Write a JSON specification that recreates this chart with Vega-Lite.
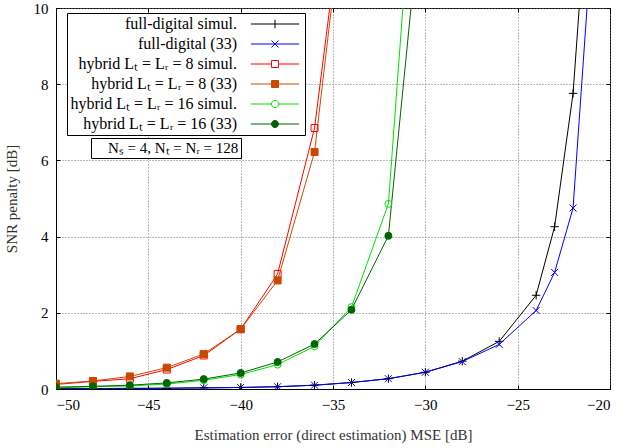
{
  "$schema": "https://vega.github.io/schema/vega-lite/v6.json",
  "width": 554,
  "height": 381,
  "autosize": {"type": "none"},
  "padding": {"left": 56, "top": 8, "right": 14, "bottom": 59},
  "background": "white",
  "resolve": {"axis": {"x": "independent", "y": "independent"}},
  "config": {
    "font": "Liberation Serif",
    "view": {"stroke": "black", "strokeWidth": 1},
    "axis": {
      "labelFont": "Liberation Serif", "labelFontSize": 15, "labelColor": "#000",
      "titleFont": "Liberation Serif", "titleFontSize": 15, "titleFontWeight": "normal", "titleColor": "#333",
      "domainColor": "#000", "tickColor": "#000", "tickSize": -4,
      "gridColor": "#777", "gridDash": [1, 2], "gridOpacity": 1, "gridWidth": 1
    },
    "legend": {"labelFont": "Liberation Serif", "labelFontSize": 16, "labelColor": "#000", "labelLimit": 400}
  },
  "datasets": {
    "curves": [
      {"series": "full-digital simul.", "mse": -50, "snr": 0.01},
      {"series": "full-digital simul.", "mse": -48, "snr": 0.01},
      {"series": "full-digital simul.", "mse": -46, "snr": 0.02},
      {"series": "full-digital simul.", "mse": -44, "snr": 0.02},
      {"series": "full-digital simul.", "mse": -42, "snr": 0.03},
      {"series": "full-digital simul.", "mse": -40, "snr": 0.04},
      {"series": "full-digital simul.", "mse": -38, "snr": 0.06},
      {"series": "full-digital simul.", "mse": -36, "snr": 0.1},
      {"series": "full-digital simul.", "mse": -34, "snr": 0.17},
      {"series": "full-digital simul.", "mse": -32, "snr": 0.27},
      {"series": "full-digital simul.", "mse": -30, "snr": 0.44},
      {"series": "full-digital simul.", "mse": -28, "snr": 0.73},
      {"series": "full-digital simul.", "mse": -26, "snr": 1.25},
      {"series": "full-digital simul.", "mse": -24, "snr": 2.46},
      {"series": "full-digital simul.", "mse": -23, "snr": 4.26},
      {"series": "full-digital simul.", "mse": -22, "snr": 7.76},
      {"series": "full-digital simul.", "mse": -21, "snr": 14.5},
      {"series": "full-digital (33)", "mse": -50, "snr": 0.0},
      {"series": "full-digital (33)", "mse": -48, "snr": 0.01},
      {"series": "full-digital (33)", "mse": -46, "snr": 0.01},
      {"series": "full-digital (33)", "mse": -44, "snr": 0.02},
      {"series": "full-digital (33)", "mse": -42, "snr": 0.03},
      {"series": "full-digital (33)", "mse": -40, "snr": 0.04},
      {"series": "full-digital (33)", "mse": -38, "snr": 0.06},
      {"series": "full-digital (33)", "mse": -36, "snr": 0.1},
      {"series": "full-digital (33)", "mse": -34, "snr": 0.17},
      {"series": "full-digital (33)", "mse": -32, "snr": 0.27},
      {"series": "full-digital (33)", "mse": -30, "snr": 0.44},
      {"series": "full-digital (33)", "mse": -28, "snr": 0.72},
      {"series": "full-digital (33)", "mse": -26, "snr": 1.17},
      {"series": "full-digital (33)", "mse": -24, "snr": 2.06},
      {"series": "full-digital (33)", "mse": -23, "snr": 3.06},
      {"series": "full-digital (33)", "mse": -22, "snr": 4.75},
      {"series": "full-digital (33)", "mse": -21, "snr": 11.7},
      {"series": "hybrid Lₜ = Lᵣ = 8 simul.", "mse": -50, "snr": 0.12},
      {"series": "hybrid Lₜ = Lᵣ = 8 simul.", "mse": -48, "snr": 0.2},
      {"series": "hybrid Lₜ = Lᵣ = 8 simul.", "mse": -46, "snr": 0.27},
      {"series": "hybrid Lₜ = Lᵣ = 8 simul.", "mse": -44, "snr": 0.51},
      {"series": "hybrid Lₜ = Lᵣ = 8 simul.", "mse": -42, "snr": 0.88},
      {"series": "hybrid Lₜ = Lᵣ = 8 simul.", "mse": -40, "snr": 1.57},
      {"series": "hybrid Lₜ = Lᵣ = 8 simul.", "mse": -38, "snr": 3.02},
      {"series": "hybrid Lₜ = Lᵣ = 8 simul.", "mse": -36, "snr": 6.85},
      {"series": "hybrid Lₜ = Lᵣ = 8 simul.", "mse": -34, "snr": 14.5},
      {"series": "hybrid Lₜ = Lᵣ = 8 (33)", "mse": -50, "snr": 0.14},
      {"series": "hybrid Lₜ = Lᵣ = 8 (33)", "mse": -48, "snr": 0.21},
      {"series": "hybrid Lₜ = Lᵣ = 8 (33)", "mse": -46, "snr": 0.33},
      {"series": "hybrid Lₜ = Lᵣ = 8 (33)", "mse": -44, "snr": 0.56},
      {"series": "hybrid Lₜ = Lᵣ = 8 (33)", "mse": -42, "snr": 0.92},
      {"series": "hybrid Lₜ = Lᵣ = 8 (33)", "mse": -40, "snr": 1.57},
      {"series": "hybrid Lₜ = Lᵣ = 8 (33)", "mse": -38, "snr": 2.85},
      {"series": "hybrid Lₜ = Lᵣ = 8 (33)", "mse": -36, "snr": 6.22},
      {"series": "hybrid Lₜ = Lᵣ = 8 (33)", "mse": -34, "snr": 14.5},
      {"series": "hybrid Lₜ = Lᵣ = 16 simul.", "mse": -50, "snr": 0.03},
      {"series": "hybrid Lₜ = Lᵣ = 16 simul.", "mse": -48, "snr": 0.06},
      {"series": "hybrid Lₜ = Lᵣ = 16 simul.", "mse": -46, "snr": 0.08},
      {"series": "hybrid Lₜ = Lᵣ = 16 simul.", "mse": -44, "snr": 0.13},
      {"series": "hybrid Lₜ = Lᵣ = 16 simul.", "mse": -42, "snr": 0.23},
      {"series": "hybrid Lₜ = Lᵣ = 16 simul.", "mse": -40, "snr": 0.38},
      {"series": "hybrid Lₜ = Lᵣ = 16 simul.", "mse": -38, "snr": 0.64},
      {"series": "hybrid Lₜ = Lᵣ = 16 simul.", "mse": -36, "snr": 1.12},
      {"series": "hybrid Lₜ = Lᵣ = 16 simul.", "mse": -34, "snr": 2.15},
      {"series": "hybrid Lₜ = Lᵣ = 16 simul.", "mse": -32, "snr": 4.86},
      {"series": "hybrid Lₜ = Lᵣ = 16 simul.", "mse": -30, "snr": 18.0},
      {"series": "hybrid Lₜ = Lᵣ = 16 (33)", "mse": -50, "snr": 0.05},
      {"series": "hybrid Lₜ = Lᵣ = 16 (33)", "mse": -48, "snr": 0.07},
      {"series": "hybrid Lₜ = Lᵣ = 16 (33)", "mse": -46, "snr": 0.1},
      {"series": "hybrid Lₜ = Lᵣ = 16 (33)", "mse": -44, "snr": 0.16},
      {"series": "hybrid Lₜ = Lᵣ = 16 (33)", "mse": -42, "snr": 0.26},
      {"series": "hybrid Lₜ = Lᵣ = 16 (33)", "mse": -40, "snr": 0.42},
      {"series": "hybrid Lₜ = Lᵣ = 16 (33)", "mse": -38, "snr": 0.71},
      {"series": "hybrid Lₜ = Lᵣ = 16 (33)", "mse": -36, "snr": 1.18},
      {"series": "hybrid Lₜ = Lᵣ = 16 (33)", "mse": -34, "snr": 2.08},
      {"series": "hybrid Lₜ = Lᵣ = 16 (33)", "mse": -32, "snr": 4.02},
      {"series": "hybrid Lₜ = Lᵣ = 16 (33)", "mse": -30, "snr": 13.8}
    ],
    "note": [{"note": "Nₛ = 4, Nₜ = Nᵣ = 128"}]
  },
  "layer": [
    {
      "data": {"name": "curves"},
      "mark": {"type": "line", "clip": true, "strokeWidth": 1},
      "encoding": {
        "x": {"field": "mse", "type": "quantitative", "scale": {"domain": [-50, -20], "nice": false},
          "axis": {"orient": "bottom", "values": [-50, -45, -40, -35, -30, -25, -20], "title": "Estimation error (direct estimation) MSE [dB]", "labelPadding": 12, "titlePadding": 15}},
        "y": {"field": "snr", "type": "quantitative", "scale": {"domain": [0, 10], "nice": false},
          "axis": {"orient": "left", "values": [0, 2, 4, 6, 8, 10], "title": "SNR penalty [dB]", "labelPadding": 12, "titlePadding": 14}},
        "stroke": {"field": "series", "type": "nominal",
          "scale": {"domain": ["full-digital simul.", "full-digital (33)", "hybrid Lₜ = Lᵣ = 8 simul.", "hybrid Lₜ = Lᵣ = 8 (33)", "hybrid Lₜ = Lᵣ = 16 simul.", "hybrid Lₜ = Lᵣ = 16 (33)"],
                    "range": ["#000000", "#0000ff", "#ff0000", "#c84a00", "#00e000", "#006400"]},
          "legend": {
            "orient": "none", "legendX": 11, "legendY": 5, "title": null,
            "strokeColor": "#000", "fillColor": "#fff", "padding": 3, "rowPadding": 4,
            "labelAlign": "right", "labelOffset": 151,
            "encode": {
              "symbols": {"update": {
                "x": {"value": 205},
                "size": {"value": 49},
                "strokeWidth": {"value": 1},
                "opacity": {"value": 1},
                "shape": {"signal": "['M-6.9,0H6.9M0,-1.2V1.2', 'M-6.9,0H6.9M-1,-1L1,1M-1,1L1,-1', 'M-6.9,0H-1M1,0H6.9M-1,-1H1V1H-1Z', 'M-6.9,0H-1M1,0H6.9M-1,-1H1V1H-1Z', 'M-6.9,0H-1M1,0H6.9M-1,0A1,1 0 1,0 1,0A1,1 0 1,0 -1,0Z', 'M-6.9,0H-1M1,0H6.9M-1,0A1,1 0 1,0 1,0A1,1 0 1,0 -1,0Z'][datum.index]"},
                "fill": {"signal": "['transparent', 'transparent', 'transparent', '#c84a00', 'transparent', '#006400'][datum.index]"}
              }}
            }
          }
        }
      }
    },
    {
      "data": {"name": "curves"},
      "transform": [{"filter": {"field": "series", "equal": "full-digital simul."}}],
      "mark": {"type": "point", "clip": true, "strokeWidth": 1, "size": 49, "opacity": 1, "shape": "M-1.2,0H1.2M0,-1.2V1.2", "stroke": "#000000", "fill": "transparent"},
      "encoding": {
        "x": {"field": "mse", "type": "quantitative", "axis": {"orient": "top", "values": [-50, -45, -40, -35, -30, -25, -20], "labels": false, "grid": false, "domain": false, "title": null}},
        "y": {"field": "snr", "type": "quantitative", "axis": {"orient": "right", "values": [0, 2, 4, 6, 8, 10], "labels": false, "grid": false, "domain": false, "title": null}}
      }
    },
    {
      "data": {"name": "curves"},
      "transform": [{"filter": {"field": "series", "equal": "full-digital (33)"}}],
      "mark": {"type": "point", "clip": true, "strokeWidth": 1, "size": 49, "opacity": 1, "shape": "M-1,-1L1,1M-1,1L1,-1", "stroke": "#0000ff", "fill": "transparent"},
      "encoding": {"x": {"field": "mse", "type": "quantitative", "axis": null}, "y": {"field": "snr", "type": "quantitative", "axis": null}}
    },
    {
      "data": {"name": "curves"},
      "transform": [{"filter": {"field": "series", "equal": "hybrid Lₜ = Lᵣ = 8 simul."}}],
      "mark": {"type": "point", "clip": true, "strokeWidth": 1, "size": 49, "opacity": 1, "shape": "square", "stroke": "#ff0000", "fill": "transparent"},
      "encoding": {"x": {"field": "mse", "type": "quantitative", "axis": null}, "y": {"field": "snr", "type": "quantitative", "axis": null}}
    },
    {
      "data": {"name": "curves"},
      "transform": [{"filter": {"field": "series", "equal": "hybrid Lₜ = Lᵣ = 8 (33)"}}],
      "mark": {"type": "point", "clip": true, "strokeWidth": 1, "size": 49, "opacity": 1, "shape": "square", "stroke": "#c84a00", "fill": "#c84a00"},
      "encoding": {"x": {"field": "mse", "type": "quantitative", "axis": null}, "y": {"field": "snr", "type": "quantitative", "axis": null}}
    },
    {
      "data": {"name": "curves"},
      "transform": [{"filter": {"field": "series", "equal": "hybrid Lₜ = Lᵣ = 16 simul."}}],
      "mark": {"type": "point", "clip": true, "strokeWidth": 1, "size": 49, "opacity": 1, "shape": "circle", "stroke": "#00e000", "fill": "transparent"},
      "encoding": {"x": {"field": "mse", "type": "quantitative", "axis": null}, "y": {"field": "snr", "type": "quantitative", "axis": null}}
    },
    {
      "data": {"name": "curves"},
      "transform": [{"filter": {"field": "series", "equal": "hybrid Lₜ = Lᵣ = 16 (33)"}}],
      "mark": {"type": "point", "clip": true, "strokeWidth": 1, "size": 49, "opacity": 1, "shape": "circle", "stroke": "#006400", "fill": "#006400"},
      "encoding": {"x": {"field": "mse", "type": "quantitative", "axis": null}, "y": {"field": "snr", "type": "quantitative", "axis": null}}
    },
    {
      "data": {"name": "note"},
      "mark": {"type": "point", "opacity": 0},
      "encoding": {
        "shape": {"field": "note", "type": "nominal",
          "legend": {"orient": "none", "legendX": 35, "legendY": 130, "title": null,
            "strokeColor": "#000", "fillColor": "#fff", "padding": 2, "labelFontSize": 15,
            "symbolSize": 1, "symbolOpacity": 0, "symbolStrokeWidth": 0, "labelOffset": 0}}
      }
    }
  ]
}
